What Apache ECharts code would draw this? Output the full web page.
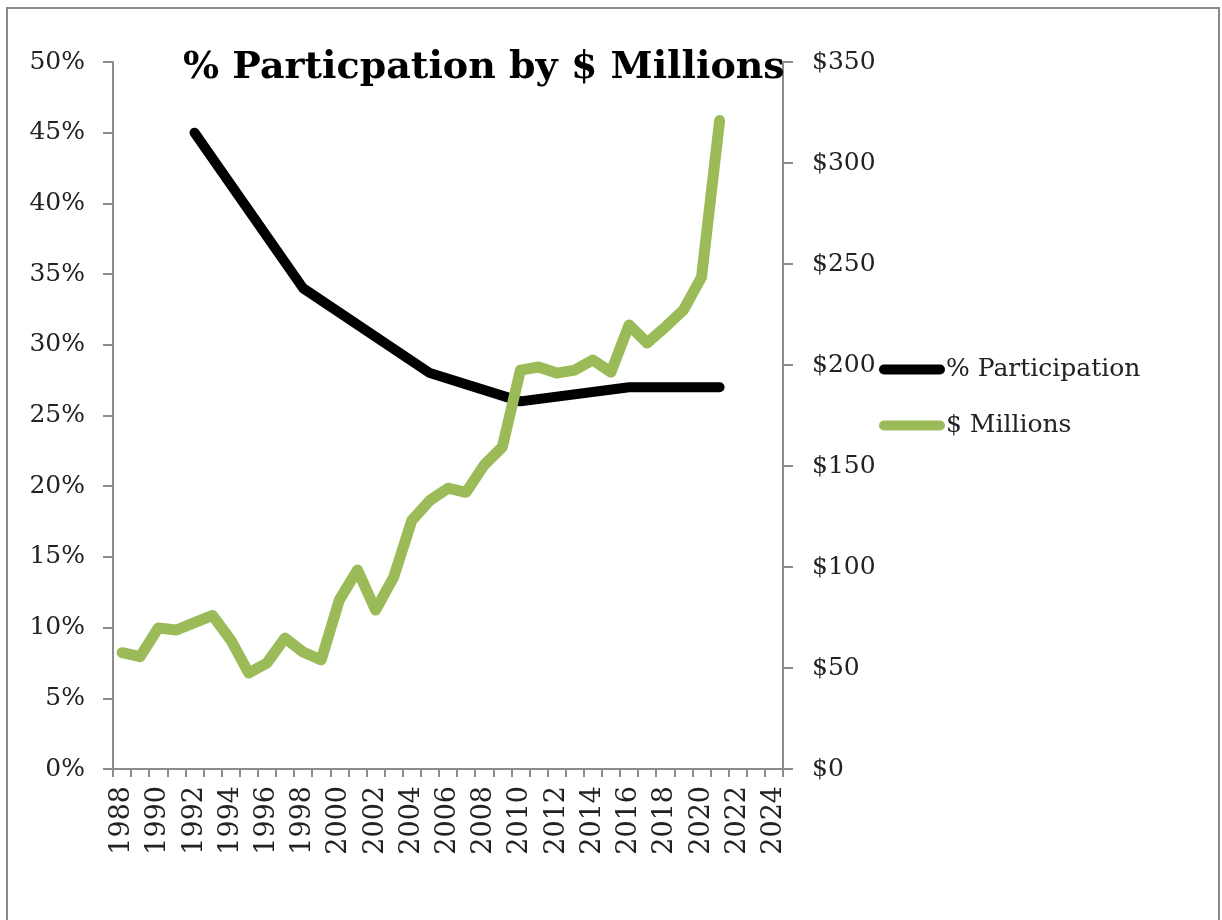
<!DOCTYPE html>
<html>
<head>
<meta charset="utf-8">
<script src="https://cdn.jsdelivr.net/npm/echarts@6/dist/echarts.min.js"></script>
<style>
html,body{margin:0;padding:0;background:#fff;}
#c{width:1222px;height:920px;}
</style>
</head>
<body>
<div id="c"></div>
<script>
// Categories: years 1988..2024
const years = ['1988','1989','1990','1991','1992','1993','1994','1995','1996','1997','1998','1999',
  '2000','2001','2002','2003','2004','2005','2006','2007','2008','2009','2010','2011','2012','2013',
  '2014','2015','2016','2017','2018','2019','2020','2021','2022','2023','2024'];

// % Participation (only reported years; gaps connected)
const participation = [null,null,null,null,45,null,null,null,null,null,34,null,
  null,null,null,null,null,28,null,null,null,null,26,null,null,null,
  null,null,27,null,null,null,null,27,null,null,null];

// $ Millions
const millions = [57.6,55.6,69.8,68.8,72.5,76,63.9,47.5,52.5,64.8,57.9,54,
  83.7,98.5,78.7,95,123,133,139,137,150.5,159.4,197.5,199,196,197.5,
  202.5,196.5,219.8,210.9,218.8,227.2,243.5,321,null,null,null];

const titleText = '% Particpation by $ Millions';
const seriesNames = ['% Participation', '$ Millions'];

const FONT = 'DejaVu Serif';
const legendIcon = 'path://M5,0 L61,0 A5,5 0 0 1 61,10 L5,10 A5,5 0 0 1 5,0 Z';

const chart = echarts.init(document.getElementById('c'));
chart.setOption({
  animation: false,
  backgroundColor: '#fff',
  graphic: [{
    type: 'rect',
    shape: {x: 7, y: 8, width: 1212, height: 940},
    style: {fill: 'none', stroke: '#8a8a8a', lineWidth: 2},
    silent: true, z: -1
  }],
  title: {
    text: titleText,
    left: 178, top: 44,
    textStyle: {fontFamily: FONT, fontWeight: 'bold', fontSize: 38, color: '#000'}
  },
  legend: {
    orient: 'vertical',
    left: 874, top: 352,
    itemWidth: 66, itemHeight: 10,
    itemGap: 31,
    icon: legendIcon,
    data: seriesNames,
    textStyle: {fontFamily: FONT, fontSize: 25, color: '#222', padding: [0,0,0,-4]}
  },
  grid: {left: 113, right: 439, top: 62, bottom: 151, containLabel: false},
  xAxis: {
    type: 'category',
    data: years,
    boundaryGap: true,
    axisLine: {lineStyle: {color: '#8c8c8c', width: 2}},
    axisTick: {show: true, interval: 0, length: 8, lineStyle: {color: '#8c8c8c', width: 2}},
    axisLabel: {interval: 1, rotate: 90, margin: 17, fontFamily: FONT, fontSize: 27, color: '#222'},
    splitLine: {show: false}
  },
  yAxis: [{
    type: 'value', min: 0, max: 50, interval: 5, position: 'left',
    axisLine: {show: true, lineStyle: {color: '#8c8c8c', width: 2}},
    axisTick: {show: true, length: 10, lineStyle: {color: '#8c8c8c', width: 2}},
    axisLabel: {formatter: v => v + '%', margin: 28, fontFamily: FONT, fontSize: 25, color: '#222'},
    splitLine: {show: false}
  }, {
    type: 'value', min: 0, max: 350, interval: 50, position: 'right',
    axisLine: {show: true, lineStyle: {color: '#8c8c8c', width: 2}},
    axisTick: {show: true, length: 10, lineStyle: {color: '#8c8c8c', width: 2}},
    axisLabel: {formatter: v => '$' + v, margin: 29, fontFamily: FONT, fontSize: 25, color: '#222'},
    splitLine: {show: false}
  }],
  series: [{
    name: seriesNames[0],
    type: 'line', yAxisIndex: 0,
    data: participation,
    connectNulls: true,
    showSymbol: false, symbol: 'none',
    color: '#000',
    lineStyle: {color: '#000', width: 10, cap: 'round', join: 'round'},
    z: 3
  }, {
    name: seriesNames[1],
    type: 'line', yAxisIndex: 1,
    data: millions,
    showSymbol: false, symbol: 'none',
    color: '#9bbb59',
    lineStyle: {color: '#9bbb59', width: 11, cap: 'round', join: 'round'},
    z: 4
  }]
});
</script>
</body>
</html>
